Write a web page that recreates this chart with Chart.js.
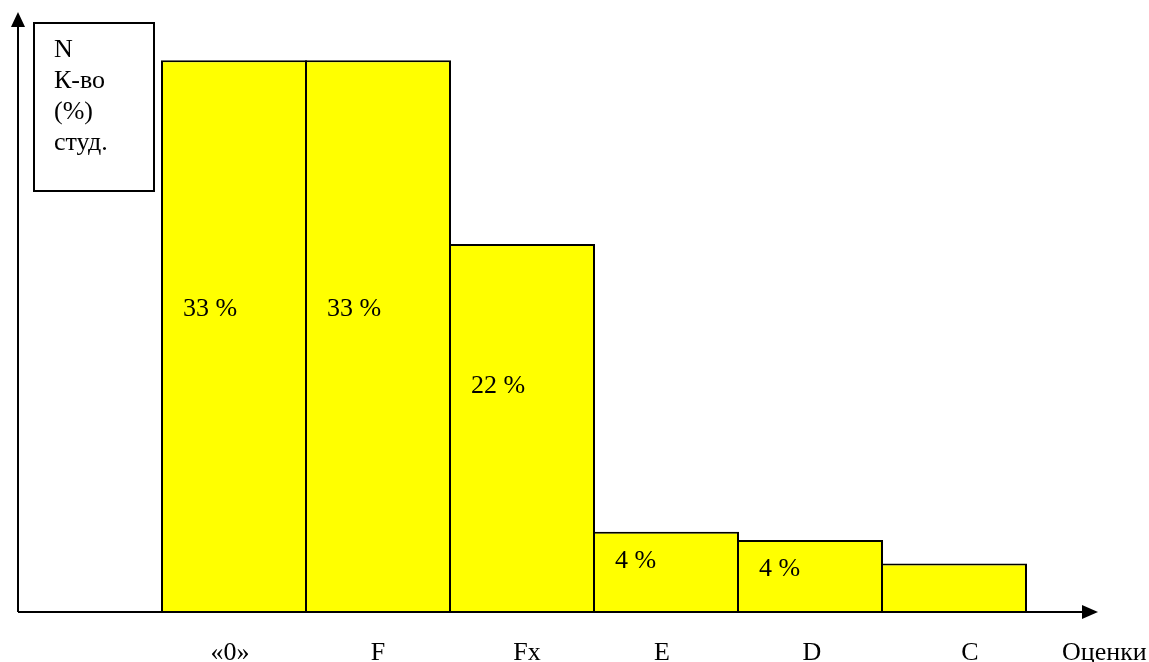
<!DOCTYPE html>
<html>
<head>
<meta charset="utf-8">
<script src="https://cdn.jsdelivr.net/npm/chart.js@4/dist/chart.umd.min.js"></script>
<style>
  html, body { margin: 0; padding: 0; background: #fff; }
  #wrap { width: 1149px; height: 662px; }
</style>
</head>
<body>
<div id="wrap"><canvas id="chart"></canvas></div>
<script>
// grades on the x axis
const grades = ['«0»', 'F', 'Fx', 'E', 'D', 'C'];
// bar heights as drawn (the small bars are exaggerated in the original)
const heights = [33, 33, 22, 4.8, 4.3, 2.9];
// text written inside each bar
const barLabels = ['33 %', '33 %', '22 %', '4 %', '4 %', ''];
// y axis caption lines
const yCaption = ['N', 'К-во', '(%)', 'студ.'];
const xCaption = 'Оценки';

const FONT = '26px "Liberation Serif", "Times New Roman", serif';

// draws arrows, the caption box and all the text
const decorations = {
    id: 'decorations',
    afterDatasetsDraw(chart) {
        const ctx = chart.ctx;
        const area = chart.chartArea;
        const x = chart.scales.x;
        const meta = chart.getDatasetMeta(0);

        ctx.save();
        ctx.strokeStyle = '#000';
        ctx.fillStyle = '#000';
        ctx.lineWidth = 2;

        // y axis with arrow
        ctx.beginPath();
        ctx.moveTo(area.left, area.bottom);
        ctx.lineTo(area.left, area.top + 10);
        ctx.stroke();
        ctx.beginPath();
        ctx.moveTo(area.left, area.top + 2);
        ctx.lineTo(area.left - 7, area.top + 17);
        ctx.lineTo(area.left + 7, area.top + 17);
        ctx.closePath();
        ctx.fill();

        // x axis with arrow
        const tipX = area.right + 72;
        ctx.beginPath();
        ctx.moveTo(area.left, area.bottom);
        ctx.lineTo(tipX - 10, area.bottom);
        ctx.stroke();
        ctx.beginPath();
        ctx.moveTo(tipX, area.bottom);
        ctx.lineTo(tipX - 16, area.bottom - 7);
        ctx.lineTo(tipX - 16, area.bottom + 7);
        ctx.closePath();
        ctx.fill();

        // caption box
        ctx.fillStyle = '#fff';
        ctx.fillRect(34, 23, 120, 168);
        ctx.strokeRect(34, 23, 120, 168);

        ctx.fillStyle = '#000';
        ctx.font = FONT;
        ctx.textAlign = 'left';
        ctx.textBaseline = 'alphabetic';
        yCaption.forEach((t, i) => ctx.fillText(t, 54, 57 + i * 31));

        // text inside the bars
        const labelDrop = [0, 256, 256, 149, 36, 36, 0];
        meta.data.forEach((bar, i) => {
            const txt = barLabels[i - 1];
            if (!txt) return;
            const left = bar.x - bar.width / 2;
            ctx.fillText(txt, left + 22, bar.y + labelDrop[i]);
        });

        // category labels under the axis
        const shift = [0, -4, 0, 5, -4, 2, 16];
        ctx.textAlign = 'center';
        chart.data.labels.forEach((lab, i) => {
            if (!lab) return;
            ctx.fillText(lab, x.getPixelForValue(i) + shift[i], area.bottom + 48);
        });
        ctx.textAlign = 'left';
        ctx.fillText(xCaption, area.right + 36, area.bottom + 48);

        ctx.restore();
    }
};

new Chart(document.getElementById('chart'), {
    type: 'bar',
    data: {
        labels: [''].concat(grades),
        datasets: [{
            data: [null].concat(heights),
            backgroundColor: '#ffff00',
            borderColor: '#000',
            borderWidth: 2,
            borderSkipped: 'bottom',
            categoryPercentage: 1,
            // slight overlap so neighbouring borders coincide
            barPercentage: 146 / 144,
            clip: false
        }]
    },
    options: {
        responsive: true,
        maintainAspectRatio: false,
        animation: false,
        layout: { padding: { left: 18, right: 123, top: 10, bottom: 50 } },
        plugins: { legend: { display: false }, tooltip: { enabled: false } },
        scales: {
            x: { display: false },
            y: { display: false, min: 0, max: 36 }
        }
    },
    plugins: [decorations]
});
</script>
</body>
</html>
